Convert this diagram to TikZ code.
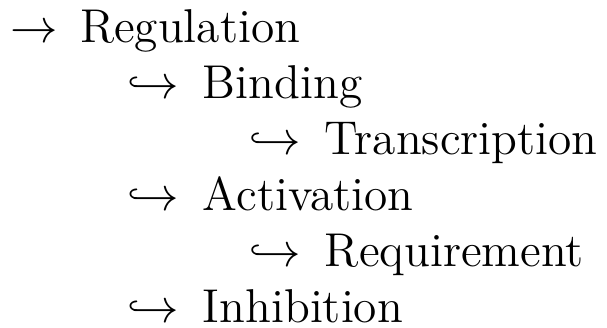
\documentclass[tikz,border=0pt]{standalone}
\begin{document}
\begin{tikzpicture}[x=0.2529pt,y=-0.2529pt,
  glyph/.style={inner sep=0pt,outer sep=0pt,anchor=base west,font=\fontsize{12}{14}\selectfont},
  term/.style={glyph}]
  \useasboundingbox (0,0) rectangle (607,328);
  % level 0
  \node[glyph] (a0) at (10,42.7) {$\rightarrow$};
  \node[term]  (t0) at (80,42.7) {Regulation};
  % level 1 and 2
  \node[glyph] (a1) at (127,98.7) {$\hookrightarrow$};
  \node[term]  (t1) at (203,98.7) {Binding};
  \node[glyph] (a2) at (249,154.7) {$\hookrightarrow$};
  \node[term]  (t2) at (325,154.7) {Transcription};
  \node[glyph] (a3) at (127,210.7) {$\hookrightarrow$};
  \node[term]  (t3) at (203,210.7) {Activation};
  \node[glyph] (a4) at (249,266.7) {$\hookrightarrow$};
  \node[term]  (t4) at (325,266.7) {Requirement};
  \node[glyph] (a5) at (127,322.7) {$\hookrightarrow$};
  \node[term]  (t5) at (203,322.7) {Inhibition};
\end{tikzpicture}
\end{document}
